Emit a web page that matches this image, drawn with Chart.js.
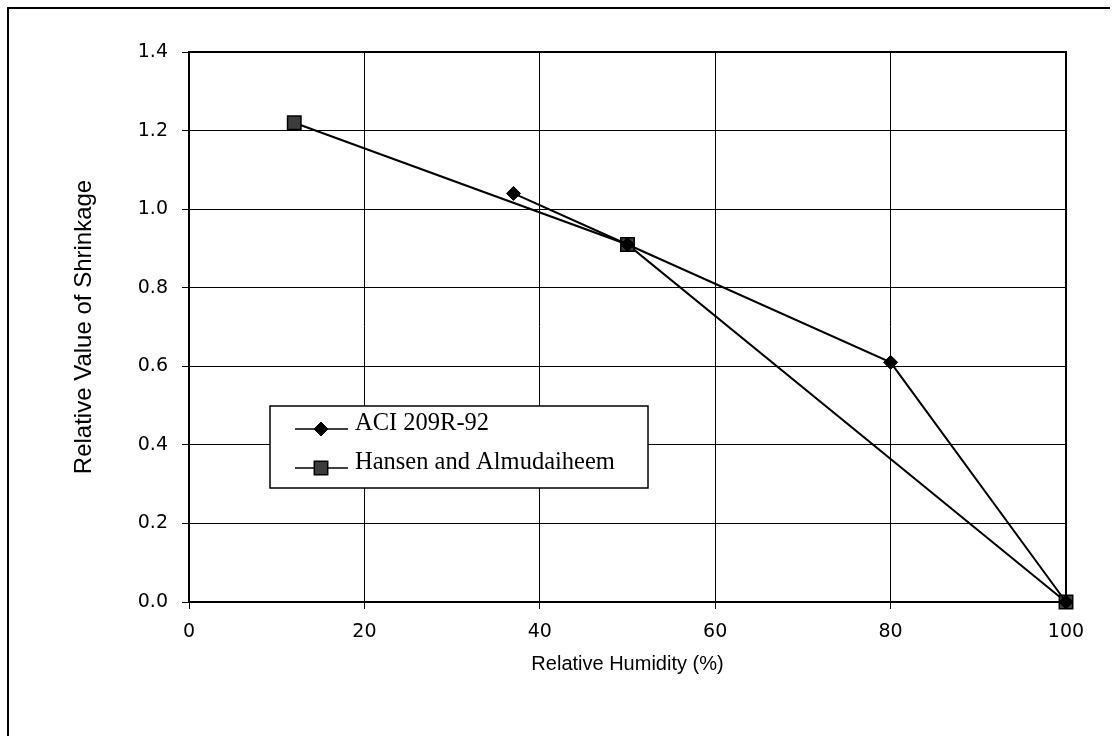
<!DOCTYPE html>
<html>
<head>
<meta charset="utf-8">
<script src="https://cdn.jsdelivr.net/npm/chart.js@4/dist/chart.umd.min.js"></script>
<style>
  html, body { margin: 0; padding: 0; background: #fff; }
  #wrap { width: 1115px; height: 736px; position: relative; }
</style>
</head>
<body>
<div id="wrap"><canvas id="c" width="1115" height="736"></canvas></div>
<script>
// ---- data ----
const seriesNames = ["ACI 209R-92", "Hansen and Almudaiheem"];
const aciHumidity = [37, 50, 80, 100];
const aciShrinkage = [1.04, 0.91, 0.61, 0.0];
const hansenHumidity = [12, 50, 100];
const hansenShrinkage = [1.22, 0.91, 0.0];
const xTickValues = [0, 20, 40, 60, 80, 100];
const yTickValues = [0.0, 0.2, 0.4, 0.6, 0.8, 1.0, 1.2, 1.4];
const xTitle = "Relative Humidity (%)";
const yTitle = "Relative Value of Shrinkage";

function toPoints(xs, ys) { return xs.map((x, i) => ({ x: x, y: ys[i] })); }

const frame = {
  id: 'frame',
  beforeDraw(chart) {
    const ctx = chart.ctx;
    ctx.save();
    ctx.fillStyle = '#fff';
    ctx.fillRect(0, 0, chart.width, chart.height);
    ctx.strokeStyle = '#000';
    ctx.lineWidth = 2;
    ctx.beginPath();
    ctx.moveTo(8, 736);
    ctx.lineTo(8, 8);
    ctx.lineTo(1110, 8);
    ctx.stroke();
    ctx.restore();
  }
};

const legendBox = {
  id: 'legendBox',
  afterDraw(chart) {
    const ctx = chart.ctx;
    const box = { l: 270, t: 406, r: 648, b: 488 };
    ctx.save();
    ctx.fillStyle = '#fff';
    ctx.fillRect(box.l, box.t, box.r - box.l, box.b - box.t);
    ctx.strokeStyle = '#000';
    ctx.lineWidth = 1.5;
    ctx.strokeRect(box.l, box.t, box.r - box.l, box.b - box.t);
    const rowsY = [429, 468];
    chart.data.datasets.forEach((ds, i) => {
      const y = rowsY[i];
      ctx.strokeStyle = '#000';
      ctx.lineWidth = 1.5;
      ctx.beginPath();
      ctx.moveTo(295, y);
      ctx.lineTo(348, y);
      ctx.stroke();
      ctx.fillStyle = ds.pointBackgroundColor;
      ctx.strokeStyle = ds.pointBorderColor;
      ctx.lineWidth = ds.pointBorderWidth;
      Chart.helpers.drawPoint(ctx, {
        pointStyle: ds.pointStyle,
        radius: ds.pointRadius,
        borderWidth: ds.pointBorderWidth,
        rotation: 0
      }, 321, y);
      ctx.fillStyle = '#000';
      ctx.font = '24.5px "Liberation Serif", "Times New Roman", serif';
      ctx.textBaseline = 'alphabetic';
      ctx.textAlign = 'left';
      ctx.fillText(ds.label, 355, y + 1);
    });
    ctx.restore();
  }
};

new Chart(document.getElementById('c'), {
  type: 'scatter',
  data: {
    datasets: [
      {
        label: seriesNames[0],
        data: toPoints(aciHumidity, aciShrinkage),
        showLine: true,
        clip: false,
        borderColor: '#000',
        borderWidth: 2,
        pointStyle: 'rectRot',
        pointRadius: 7,
        pointHoverRadius: 7,
        pointBackgroundColor: '#000',
        pointBorderColor: '#000',
        pointBorderWidth: 1
      },
      {
        label: seriesNames[1],
        data: toPoints(hansenHumidity, hansenShrinkage),
        showLine: true,
        clip: false,
        borderColor: '#000',
        borderWidth: 2,
        pointStyle: 'rect',
        pointRadius: 9.5,
        pointHoverRadius: 9.5,
        pointBackgroundColor: '#3c3c3c',
        pointBorderColor: '#000',
        pointBorderWidth: 1.5
      }
    ]
  },
  options: {
    responsive: false,
    animation: false,
    devicePixelRatio: 1,
    layout: { padding: { left: 0, right: 49, top: 52, bottom: 0 } },
    plugins: { legend: { display: false }, tooltip: { enabled: false } },
    scales: {
      x: {
        type: 'linear',
        min: 0, max: 100,
        afterFit(scale) { scale.height = 134; },
        afterBuildTicks(scale) { scale.ticks = xTickValues.map(v => ({ value: v })); },
        ticks: {
          color: '#000',
          padding: 12,
          font: { family: '"DejaVu Sans", Arial, sans-serif', size: 19 },
          callback: v => String(v)
        },
        grid: { color: '#000', lineWidth: 1, tickLength: 7, drawTicks: true },
        border: { color: '#000', width: 2 },
        title: {
          display: true, text: xTitle, color: '#000',
          font: { family: '"Liberation Sans", Arial, sans-serif', size: 20 },
          padding: { top: 0, bottom: 60 }
        }
      },
      y: {
        type: 'linear',
        min: 0, max: 1.4,
        afterFit(scale) { scale.width = 189; },
        afterBuildTicks(scale) { scale.ticks = yTickValues.map(v => ({ value: v })); },
        ticks: {
          color: '#000',
          padding: 14,
          font: { family: '"DejaVu Sans", Arial, sans-serif', size: 19 },
          callback: v => Number(v).toFixed(1)
        },
        grid: { color: '#000', lineWidth: 1, tickLength: 7, drawTicks: true },
        border: { color: '#000', width: 2 },
        title: {
          display: true, text: yTitle, color: '#000',
          font: { family: '"Liberation Sans", Arial, sans-serif', size: 24 },
          padding: { top: 70, bottom: 0 }
        }
      }
    }
  },
  plugins: [frame, legendBox, {
    id: 'plotBorder',
    beforeDatasetsDraw(chart) {
      const a = chart.chartArea, ctx = chart.ctx;
      ctx.save();
      ctx.strokeStyle = '#000';
      ctx.lineWidth = 2;
      ctx.strokeRect(a.left, a.top, a.right - a.left, a.bottom - a.top);
      ctx.restore();
    }
  }]
});
</script>
</body>
</html>
